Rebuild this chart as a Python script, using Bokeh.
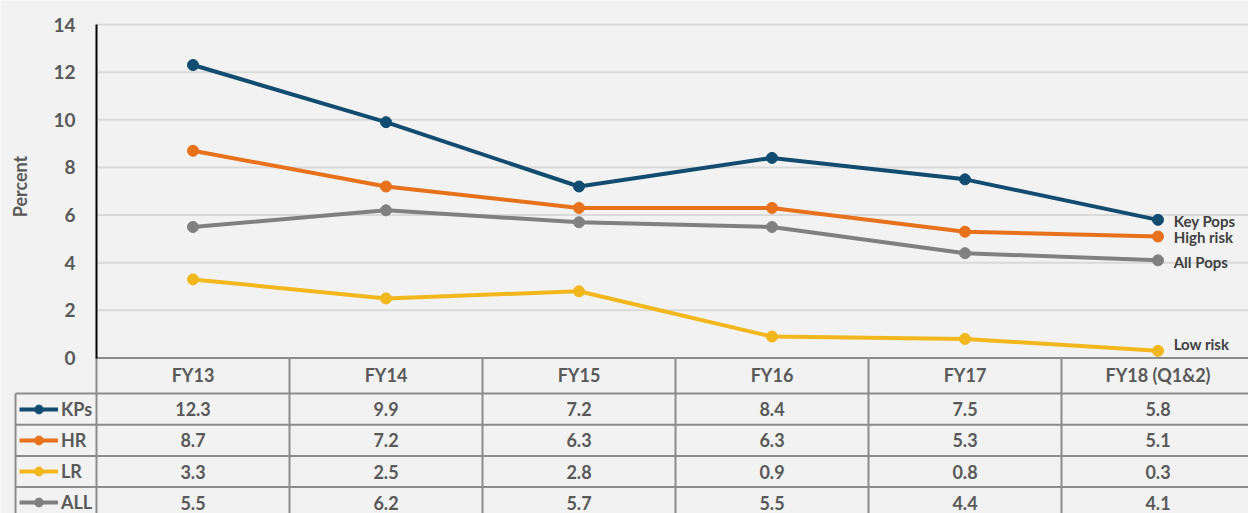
import math
from bokeh.plotting import figure
from bokeh.models import ColumnDataSource, Range1d, FixedTicker, Legend, LegendItem
from bokeh.core.properties import value
from bokeh.embed import file_html
from bokeh.resources import INLINE

# ---------------- data ----------------
categories = ["FY13", "FY14", "FY15", "FY16", "FY17", "FY18 (Q1&2)"]
kps = [12.3, 9.9, 7.2, 8.4, 7.5, 5.8]
hr = [8.7, 7.2, 6.3, 6.3, 5.3, 5.1]
lr = [3.3, 2.5, 2.8, 0.9, 0.8, 0.3]
all_pops = [5.5, 6.2, 5.7, 5.5, 4.4, 4.1]
series_codes = ["KPs", "HR", "LR", "ALL"]
end_labels = ["Key Pops", "High risk", "Low risk", "All Pops"]
y_ticks = [0, 2, 4, 6, 8, 10, 12, 14]

# ---------------- styles / layout ----------------
colors = ["#124C70", "#E8711C", "#F2B71D", "#808080"]
end_label_dy = [1.4, 0.7, -6.4, 1.7]   # screen px nudges of the end labels
BG = "#F2F2F2"
TXT = "#595959"
GRID = "#D9D9D9"
TABLE = "#8C8C8C"
FONT = "Lato"

W, H = 1248, 513
COL_PX = 193.0        # px per category column
PPU = 23.821          # px per percent
ZERO_PX = 357.5       # pixel row of the 0 line
AXIS_PX = 96.0        # pixel column of the value axis


def yd(px):
    """pixel row -> data y"""
    return (ZERO_PX - px) / PPU


def xd(px):
    """pixel column -> data x"""
    return (px - AXIS_PX) / COL_PX


x_lo, x_hi = xd(0), xd(W)
y_lo, y_hi = yd(H), yd(0)

p = figure(width=W, height=H, output_backend="svg", toolbar_location=None,
           x_axis_location=None, title=None,
           x_range=Range1d(x_lo, x_hi), y_range=Range1d(y_lo, y_hi))
p.min_border = 0
p.min_border_left = 0
p.min_border_top = 0
p.min_border_right = 0
p.min_border_bottom = 0
p.background_fill_color = BG
p.border_fill_color = BG
p.outline_line_color = None
for g in p.xgrid:
    g.visible = False
for g in p.ygrid:
    g.visible = False

ax = p.yaxis[0]
ax.fixed_location = 0
ax.bounds = (y_ticks[0], y_ticks[-1])
ax.ticker = FixedTicker(ticks=y_ticks)
ax.axis_line_color = "black"
ax.axis_line_width = 2
ax.major_tick_line_color = None
ax.minor_tick_line_color = None
ax.major_tick_out = 0
ax.major_tick_in = 0
ax.major_label_standoff = 21
ax.major_label_text_font = FONT
ax.major_label_text_font_style = "bold"
ax.major_label_text_font_size = "19px"
ax.major_label_text_color = TXT

# ---------------- gridlines ----------------
gy = [t for t in y_ticks if t > 0]
p.segment(x0=[0] * len(gy), x1=[x_hi] * len(gy), y0=gy, y1=gy,
          line_color=GRID, line_width=2)

# ---------------- table grid ----------------
x_left = xd(15.0)
row_bounds = [yd(r) for r in [393.0, 424.2, 455.4, 486.6]]
p.segment(x0=[0], x1=[x_hi], y0=[0], y1=[0], line_color=TABLE, line_width=2)
p.segment(x0=[x_left] * len(row_bounds), x1=[x_hi] * len(row_bounds),
          y0=row_bounds, y1=row_bounds, line_color=TABLE, line_width=2)
vx = list(range(0, len(categories) + 1))
p.segment(x0=vx, x1=vx, y0=[0] * len(vx), y1=[y_lo] * len(vx),
          line_color=TABLE, line_width=2)
p.segment(x0=[x_left], x1=[x_left], y0=[row_bounds[0]], y1=[y_lo],
          line_color=TABLE, line_width=2)

# ---------------- lines ----------------
xs = [i + 0.5 for i in range(len(categories))]
series = [kps, hr, lr, all_pops]
items = []
for code, vals, c in zip(series_codes, series, colors):
    rl = p.line(xs, vals, line_color=c, line_width=4)
    rs = p.scatter(xs, vals, size=11, fill_color=c, line_color=c)
    items.append(LegendItem(label=code, renderers=[rl, rs]))

# end labels
end_src = ColumnDataSource(dict(
    x=[xs[-1]] * len(series), y=[s[-1] for s in series],
    text=end_labels, dy=end_label_dy))
p.text(x="x", y="y", text="text", source=end_src, x_offset=15.7, y_offset="dy",
       text_font=value(FONT), text_font_style="bold", text_font_size="15px",
       text_color="#404040", text_align="left", text_baseline="middle")

# ---------------- table text ----------------
head_src = ColumnDataSource(dict(x=xs, y=[yd(374.8)] * len(xs), text=categories))
p.text(x="x", y="y", text="text", source=head_src,
       text_font=value(FONT), text_font_style="bold", text_font_size="18px",
       text_color=TXT, text_align="center", text_baseline="middle")

row_centers = [408.5, 439.8, 471.0, 502.2]
tx, ty, tt = [], [], []
for vals, rc in zip(series, row_centers):
    for xi, v in zip(xs, vals):
        tx.append(xi)
        ty.append(yd(rc))
        tt.append(f"{v:.1f}")
val_src = ColumnDataSource(dict(x=tx, y=ty, text=tt))
p.text(x="x", y="y", text="text", source=val_src,
       text_font=value(FONT), text_font_style="bold", text_font_size="18px",
       text_color=TXT, text_align="center", text_baseline="middle")

# row legend (line + marker samples with series codes)
legend = Legend(items=items, location=(19, 0), orientation="vertical",
                glyph_width=39, glyph_height=22, label_height=22, label_width=30,
                spacing=9, padding=0, margin=0, label_standoff=3,
                border_line_color=None, background_fill_alpha=0,
                label_text_font=FONT, label_text_font_style="bold",
                label_text_font_size="18px", label_text_color=TXT)
p.add_layout(legend)

# y axis title
p.text(x=[xd(19.5)], y=[yd(186.0)], text=["Percent"], angle=math.pi / 2,
       text_font=value(FONT), text_font_style="bold", text_font_size="18px",
       text_color=TXT, text_align="center", text_baseline="middle")

open("out.html", "w").write(file_html(p, INLINE))
